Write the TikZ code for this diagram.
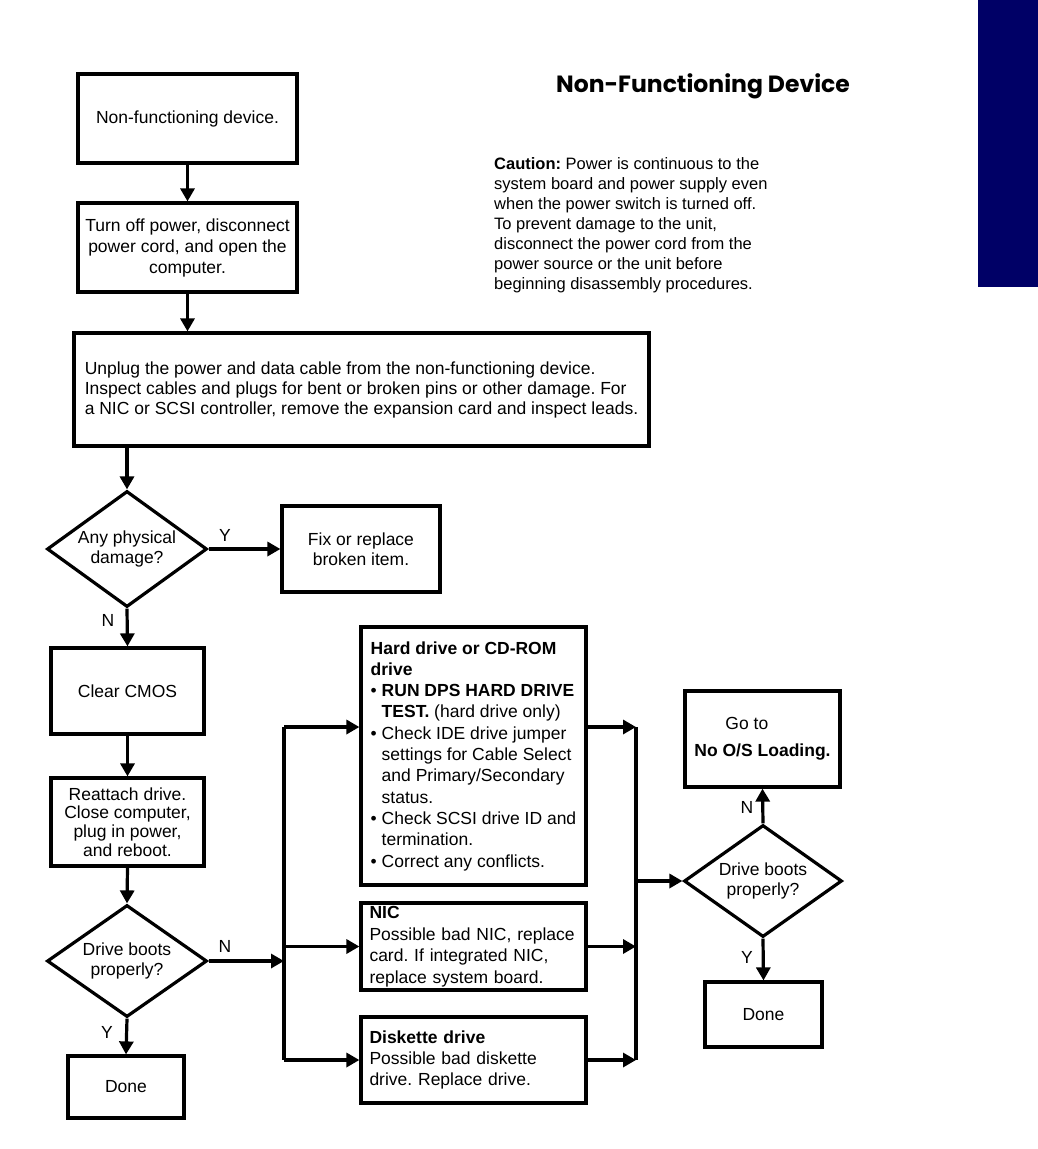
\documentclass[tikz,border=0pt]{standalone}
\usepackage{fontspec}
\setmainfont{Liberation Sans}
\newfontfamily\titlefont{Poppins}
\usetikzlibrary{arrows.meta,shapes.geometric}
\definecolor{navybar}{RGB}{0,0,102}
\newcommand\myfont{\fontsize{17.5pt}{21pt}\selectfont}
\newcommand\hb{\makebox[11pt][l]{\textbullet}}
\newcommand\hi{\hspace*{11pt}}
\begin{document}
\frenchspacing
\begin{tikzpicture}[x=1pt,y=-1pt,
  box/.style={draw,line width=3.2pt,inner sep=0pt,align=center,font=\myfont},
  dia/.style={draw,diamond,aspect=1.38,line width=3.2pt,inner sep=0pt,align=center,font=\fontsize{17.5pt}{20pt}\selectfont},
  conn/.style={line width=3.2pt},
  arr/.style={line width=3.2pt,-{Triangle[width=14pt,length=13pt]}},
  lbl/.style={font=\myfont,inner sep=0pt}]
\useasboundingbox (0,0) rectangle (1038,1149);
\fill[white] (0,0) rectangle (1038,1149);
\fill[navybar] (978,0) rectangle (1038,287);

% title and caution
\node[font=\titlefont\bfseries\fontsize{23.5pt}{27pt}\selectfont,inner sep=0pt] (title) at (703,86) {Non-Functioning Device};
\node[anchor=north west,align=left,inner sep=0pt,font=\fontsize{16.5pt}{20pt}\selectfont] (caution) at (494,157)
 {\textbf{Caution:} Power is continuous to the\\
  system board and power supply even\\
  when the power switch is turned off.\\
  To prevent damage to the unit,\\
  disconnect the power cord from the\\
  power source or the unit before\\
  beginning disassembly procedures.};

% left column
\node[box,minimum width=219pt,minimum height=89pt] (b1) at (187.5,118.5) {Non-functioning device.};
\node[box,minimum width=219pt,minimum height=89pt] (b2) at (187.5,247.5) {Turn off power, disconnect\\power cord, and open the\\computer.};
\node[box,align=left,minimum width=575pt,minimum height=113pt,font=\fontsize{17.5pt}{20pt}\selectfont] (big) at (361.5,389.5)
 {Unplug the power and data cable from the non-functioning device.\\
  Inspect cables and plugs for bent or broken pins or other damage. For\\
  a NIC or SCSI controller, remove the expansion card and inspect leads.};
\node[dia,minimum width=160pt,minimum height=116pt] (d1) at (127,549) {Any physical\\damage?};
\node[box,minimum width=158pt,minimum height=86pt,font=\fontsize{17.5pt}{20pt}\selectfont] (fix) at (361,549) {Fix or replace\\broken item.};
\node[box,minimum width=153pt,minimum height=86pt] (clear) at (127.5,691) {Clear CMOS};
\node[box,minimum width=153pt,minimum height=88pt,font=\fontsize{17.5pt}{18.7pt}\selectfont] (reat) at (127.5,822) {Reattach drive.\\Close computer,\\plug in power,\\and reboot.};
\node[dia,minimum width=160pt,minimum height=112pt] (d2) at (127,961) {Drive boots\\properly?};
\node[box,minimum width=116pt,minimum height=62pt] (done1) at (126,1087) {Done};

% middle column
\node[box,align=left,minimum width=225pt,minimum height=258pt,font=\fontsize{17.5pt}{21.3pt}\selectfont] (hd) at (473.5,756)
 {\textbf{Hard drive or CD-ROM}\\
  \textbf{drive}\\
  \hb\textbf{RUN DPS HARD DRIVE}\\
  \hi\textbf{TEST.} (hard drive only)\\
  \hb Check IDE drive jumper\\
  \hi settings for Cable Select\\
  \hi and Primary/Secondary\\
  \hi status.\\
  \hb Check SCSI drive ID and\\
  \hi termination.\\
  \hb Correct any conflicts.};
\node[box,align=left,text width=208pt,minimum width=225pt,minimum height=87pt,font=\fontsize{17.5pt}{21.5pt}\selectfont] (nic) at (473.5,946.5)
 {\textbf{NIC}\\Possible bad NIC, replace\\card. If integrated NIC,\\replace system board.};
\node[box,align=left,text width=208pt,minimum width=225pt,minimum height=86pt,font=\fontsize{17.5pt}{21pt}\selectfont] (disk) at (473.5,1060)
 {\textbf{Diskette drive}\\Possible bad diskette\\drive. Replace drive.};

% right column
\node[box,align=left,minimum width=155pt,minimum height=96pt,font=\fontsize{17.5pt}{27pt}\selectfont] (goto) at (762.5,739)
 {\hspace*{31pt}Go to\\\textbf{No O/S Loading.}};
\node[dia,minimum width=158pt,minimum height=112pt] (d3) at (763,881) {Drive boots\\properly?};
\node[box,minimum width=117pt,minimum height=65pt] (done2) at (763.5,1014.5) {Done};

% bus coordinates
\coordinate (lt) at (284,727);
\coordinate (lb) at (284,1060);
\coordinate (rt) at (636,727);
\coordinate (rb) at (636,1060);
\coordinate (rm) at (636,881);

% connectors
\draw[arr] (b1.south) -- (b2.north);
\draw[arr] (b2.south) -- (b2.south |- big.north);
\draw[arr] (big.south -| d1.north) -- (d1.north);
\draw[arr] (d1.east) -- (fix.west);
\draw[arr] (d1.south) -- (clear.north);
\draw[arr] (clear.south) -- (reat.north);
\draw[arr] (reat.south) -- (d2.north);
\draw[arr] (d2.east) -- (d2.east -| lt);
\draw[arr] (d2.south) -- (done1.north);
\draw[conn] (lt) -- (lb);
\draw[arr] (lt) -- (lt -| hd.west);
\draw[arr] (nic.west -| lt) -- (nic.west);
\draw[arr] (lb) -- (lb -| disk.west);
\draw[arr] (rt -| hd.east) -- (rt);
\draw[arr] (nic.east) -- (nic.east -| rt);
\draw[arr] (rb -| disk.east) -- (rb);
\draw[conn] (rt) -- (rb);
\draw[arr] (rm) -- (d3.west);
\draw[arr] (d3.north) -- (goto.south);
\draw[arr] (d3.south) -- (done2.north);

% Y/N labels
\node[lbl] (y1) at (225,535) {Y};
\node[lbl] (n1) at (108,620) {N};
\node[lbl] (n2) at (225,946) {N};
\node[lbl] (y2) at (107,1032) {Y};
\node[lbl] (n3) at (747,807) {N};
\node[lbl] (y3) at (747,957) {Y};
\end{tikzpicture}
\end{document}
